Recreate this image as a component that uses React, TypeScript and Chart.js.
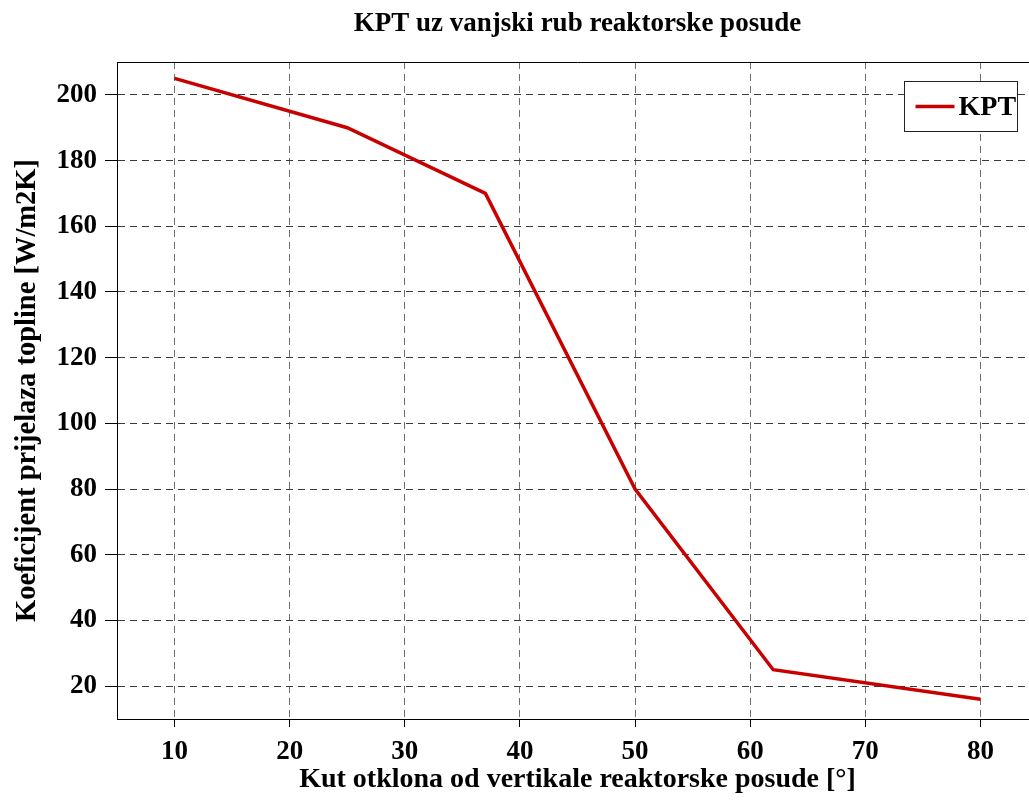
import React, { useEffect, useRef } from "react";
import { Chart, registerables } from "chart.js";

Chart.register(...registerables);

const titleText = "KPT uz vanjski rub reaktorske posude";
const xTitle = "Kut otklona od vertikale reaktorske posude [°]";
const yTitle = "Koeficijent prijelaza topline [W/m2K]";
const seriesLabel = "KPT";
const angles = [10, 25, 37, 50, 62, 80];
const kpt = [205, 190, 170, 80, 25, 16];
const xTicks = [10, 20, 30, 40, 50, 60, 70, 80];
const yTicks = [20, 40, 60, 80, 100, 120, 140, 160, 180, 200];

const FONT = "'Liberation Serif', 'Times New Roman', serif";
const LINE_COLOR = "#c80000";

const framePlugin = {
  id: "frameAndLegend",
  afterDraw(chart: any) {
    const { ctx, chartArea } = chart;
    ctx.save();
    // top border of the axes box
    ctx.strokeStyle = "#000";
    ctx.lineWidth = 1;
    ctx.setLineDash([]);
    ctx.beginPath();
    ctx.moveTo(chartArea.left, Math.round(chartArea.top) + 0.5);
    ctx.lineTo(chartArea.right, Math.round(chartArea.top) + 0.5);
    ctx.stroke();

    // legend box
    const ds = chart.data.datasets[0];
    const bx = Math.round(chartArea.right - 134) + 0.5;
    const by = Math.round(chartArea.top + 19) + 0.5;
    const bw = 113;
    const bh = 50;
    ctx.fillStyle = "#fff";
    ctx.fillRect(bx, by, bw, bh);
    ctx.strokeStyle = "#222";
    ctx.lineWidth = 1;
    ctx.strokeRect(bx, by, bw, bh);
    const cy = by + bh / 2;
    ctx.strokeStyle = ds.borderColor;
    ctx.lineWidth = ds.borderWidth;
    ctx.beginPath();
    ctx.moveTo(bx + 11, cy);
    ctx.lineTo(bx + 50, cy);
    ctx.stroke();
    ctx.fillStyle = "#000";
    ctx.font = `bold 28px ${FONT}`;
    ctx.textAlign = "left";
    ctx.textBaseline = "middle";
    ctx.fillText(ds.label, bx + 54, cy + 1);
    ctx.restore();
  },
};

export default function App() {
  const canvasRef = useRef<HTMLCanvasElement | null>(null);

  useEffect(() => {
    const canvas = canvasRef.current;
    if (!canvas) return;
    const chart = new Chart(canvas, {
      type: "line",
      data: {
        datasets: [
          {
            label: seriesLabel,
            data: angles.map((x, i) => ({ x, y: kpt[i] })),
            borderColor: LINE_COLOR,
            backgroundColor: LINE_COLOR,
            borderWidth: 3.5,
            pointRadius: 0,
            fill: false,
            tension: 0,
          },
        ],
      },
      options: {
        animation: false,
        responsive: false,
        devicePixelRatio: 1,
        layout: { padding: { left: 0, right: 7, top: 0, bottom: 0 } },
        plugins: {
          legend: { display: false },
          tooltip: { enabled: false },
          title: {
            display: true,
            text: titleText,
            fullSize: false,
            color: "#000",
            font: { family: FONT, size: 27, weight: "bold" },
            padding: { top: 7.5, bottom: 22.1 },
          },
        },
        scales: {
          x: {
            type: "linear",
            min: 5,
            max: 85,
            afterBuildTicks: (s: any) => {
              s.ticks = xTicks.map((v) => ({ value: v }));
            },
            afterFit: (s: any) => {
              s.height = 81;
            },
            ticks: {
              color: "#000",
              font: { family: FONT, size: 27, weight: "bold" },
              padding: 8.5,
              maxRotation: 0,
              autoSkip: false,
            },
            grid: {
              color: "#6e6e6e",
              lineWidth: 1,
              tickLength: 8,
              tickColor: "#000",
              tickWidth: 1,
              tickBorderDash: [],
            },
            border: { display: true, color: "#000", width: 1, dash: [7, 5] },
            title: {
              display: true,
              text: xTitle,
              color: "#000",
              font: { family: FONT, size: 28, weight: "bold" },
              padding: { top: 0, bottom: 3 },
            },
          },
          y: {
            type: "linear",
            min: 10,
            max: 210,
            afterBuildTicks: (s: any) => {
              s.ticks = yTicks.map((v) => ({ value: v }));
            },
            afterFit: (s: any) => {
              s.width = 117;
            },
            ticks: {
              color: "#000",
              font: { family: FONT, size: 27, weight: "bold" },
              padding: 8,
              autoSkip: false,
            },
            grid: {
              color: "#3a3a3a",
              lineWidth: 1,
              tickLength: 12,
              tickColor: "#000",
              tickWidth: 1,
              tickBorderDash: [],
            },
            border: { display: true, color: "#000", width: 1, dash: [7, 5] },
            title: {
              display: true,
              text: yTitle,
              color: "#000",
              font: { family: FONT, size: 28.5, weight: "bold" },
              padding: { top: 11, bottom: 0 },
            },
          },
        },
      } as any,
      plugins: [framePlugin],
    });
    return () => chart.destroy();
  }, []);

  return (
    <div
      style={{
        position: "absolute",
        left: 0,
        top: 0,
        width: 1029,
        height: 800,
        overflow: "hidden",
        background: "#fff",
      }}
    >
      <canvas ref={canvasRef} width={1045} height={800} style={{ display: "block" }} />
    </div>
  );
}
